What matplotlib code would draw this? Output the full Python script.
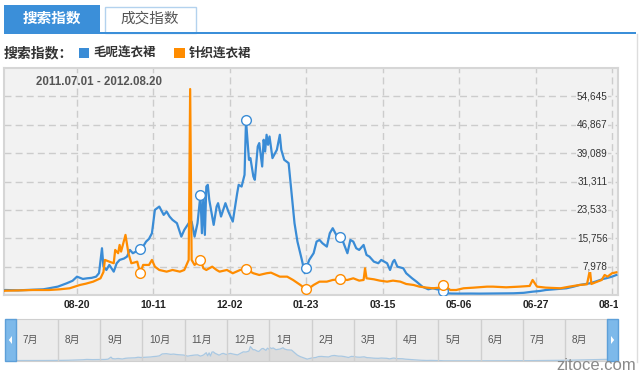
import numpy as np
import matplotlib
matplotlib.use('Agg')
import matplotlib.pyplot as plt
import matplotlib.dates as mdates
from matplotlib.patches import Rectangle, Polygon
from matplotlib.transforms import Bbox, TransformedBbox

plt.rcParams['font.family'] = ['Liberation Sans', 'Noto Sans CJK SC']

# data (days counted from the start date)
start = '2011-07-01'
date_range = '2011.07.01 - 2012.08.20'
series_names = ['毛呢连衣裙', '针织连衣裙']

blue_days = [0, 1, 10, 20, 27, 31, 37, 43, 47, 50, 54, 57, 60, 63, 65, 67, 68, 70, 72, 75,
             77, 79, 82, 84, 86, 88, 91, 93, 95, 97, 99, 101, 103, 106, 109, 111, 113, 115,
             118, 121, 123, 126, 128, 130, 132, 134, 135, 136, 137, 138, 139, 140, 143, 145,
             146, 148, 151, 153, 156, 159, 160, 162, 164, 165, 167, 168, 170, 171, 173, 174,
             176, 177, 178, 179, 180, 181, 183, 186, 188, 189, 191, 194, 196, 198, 200, 203,
             205, 206, 208, 211, 213, 215, 217, 220, 222, 224, 227, 229, 231, 234, 236, 238,
             240, 242, 245, 247, 249, 252, 255, 257, 261, 263, 265, 266, 268, 272, 274, 278,
             281, 285, 289, 292, 297, 299, 301, 305, 310, 318, 324, 333, 340, 347, 354, 360,
             365, 369, 376, 383, 388, 392, 396, 399, 403, 406, 408, 410, 412, 414, 417]
blue_vals = [1400, 1570, 1480, 1650, 1760, 2040, 2500, 3410, 4100, 5230, 4600, 4780, 4900,
             5230, 6200, 13020, 7970, 7060, 8440, 6600, 8900, 9810, 10200, 10720, 12550, 11650,
             12300, 12830, 13500, 14830, 15600, 17130, 23530, 24440, 22160, 23070, 21700,
             20790, 19880, 16200, 18040, 19880, 20320, 16200, 19880, 27650, 17130, 27180,
             16670, 29930, 30400, 26280, 19420, 24440, 25370, 21700, 25370, 23070, 20320,
             28110, 30400, 29930, 33140, 48050, 37260, 37720, 32680, 31770, 40910, 41840,
             35420, 42750, 39540, 44120, 41380, 43650, 37720, 40000, 44120, 40000, 37260,
             36350, 28110, 19880, 14830, 9810, 6160, 7530, 9810, 11650, 14830, 15300, 14390,
             13460, 17130, 18510, 16200, 16200, 14830, 11650, 15300, 14830, 13020, 12550,
             13920, 11180, 10720, 9340, 8900, 9810, 8900, 7060, 9340, 9810, 7970, 7530, 6160,
             4780, 3860, 2480, 1760, 2040, 1570, 1200, 670, 600, 580, 600, 580, 620, 650, 670,
             800, 1110, 1300, 1570, 1800, 2040, 2500, 2950, 3200, 3410, 3900, 4320, 4600,
             4780, 5000, 5230, 5690]

orange_days = [0, 1, 10, 20, 31, 38, 45, 52, 56, 61, 66, 68, 69, 72, 75, 76, 78, 79, 80, 83,
               85, 87, 89, 91, 93, 95, 99, 101, 103, 106, 111, 115, 120, 123, 126, 127, 128,
               130, 134, 136, 138, 142, 145, 147, 152, 156, 161, 165, 170, 174, 179, 182, 188,
               193, 197, 202, 205, 207, 211, 215, 220, 224, 229, 234, 238, 242, 245, 246, 247,
               252, 256, 261, 265, 270, 274, 279, 283, 288, 292, 297, 299, 304, 308, 313, 320,
               329, 333, 342, 351, 358, 360, 363, 369, 379, 385, 392, 397, 399, 400, 404, 407,
               409, 411, 414, 417]
orange_vals = [1300, 1380, 1450, 1570, 1570, 1750, 2040, 2950, 3300, 3860, 4780, 6500, 9810,
               9340, 8900, 12550, 11650, 13920, 12090, 16670, 11650, 8900, 9100, 9340, 6160,
               8440, 8440, 9810, 7970, 7060, 6600, 7060, 6600, 7060, 9810, 56660, 9810, 8440,
               9810, 7530, 7060, 7970, 7060, 6600, 7060, 6160, 7060, 7250, 6160, 5690, 6160,
               6330, 5230, 5230, 4320, 2950, 2040, 1760, 2950, 3860, 3860, 4320, 4500, 4320,
               4780, 4140, 4320, 7530, 4780, 4500, 4140, 3860, 4140, 3860, 3220, 2950, 2490,
               2220, 2040, 2220, 3000, 1570, 1570, 2040, 2220, 2490, 2490, 2310, 2490, 2680,
               4320, 2490, 2220, 2040, 2490, 2950, 3130, 7060, 3220, 3860, 4320, 5690, 5230,
               6160, 6420]

event_days = [93, 134, 165, 206, 229, 299]
tick_dates = ['2011-08-20', '2011-10-11', '2011-12-02', '2012-01-23',
              '2012-03-15', '2012-05-06', '2012-06-27', '2012-08-18']
y_ticks = [7978, 15756, 23533, 31311, 39089, 46867, 54645]
months = ['7月', '8月', '9月', '10月', '11月', '12月', '1月',
          '2月', '3月', '4月', '5月', '6月', '7月', '8月']

BLUE = '#3a8cd6'
ORANGE = '#ff8c00'
W, H = 640, 375


def fx(x):
    return x / W


def fy(y):
    return 1 - y / H


def box(x0, y0, x1, y1, **kw):
    # rectangle in pixel coords (top-left origin)
    fig.patches.append(Rectangle((fx(x0), fy(y1)), (x1 - x0) / W, (y1 - y0) / H,
                                 transform=fig.transFigure, **kw))


fig = plt.figure(figsize=(6.4, 3.75), dpi=100)

# tabs
box(4, 5, 100, 32, facecolor='#3b8fd9', edgecolor='none')
box(104.5, 6.5, 196, 33, facecolor='white', edgecolor='#b3d2ee', lw=1)
box(4, 32, 636, 34, facecolor='#3b8fd9', edgecolor='none')
fig.text(fx(52), fy(19), '搜索指数', color='white', fontsize=10.5, fontweight='bold',
         ha='center', va='center')
fig.text(fx(150), fy(19), '成交指数', color='#555555', fontsize=10.5,
         ha='center', va='center')

# legend row
fig.text(fx(4), fy(53), '搜索指数：', color='#333333', fontsize=10, fontweight='bold',
         va='center')
box(79, 48, 89, 58, facecolor=BLUE, edgecolor='none')
fig.text(fx(93), fy(53), series_names[0], color='#333333', fontsize=9, fontweight='bold',
         va='center')
box(174, 48, 185, 58, facecolor=ORANGE, edgecolor='none')
fig.text(fx(189), fy(53), series_names[1], color='#333333', fontsize=9, fontweight='bold',
         va='center')

# right border of the container
fig.lines.append(plt.Line2D([fx(637), fx(637)], [fy(34), fy(362)], transform=fig.transFigure,
                            color='#dddddd', lw=1))

# main chart
base = mdates.datestr2num(start)
ax = fig.add_axes([fx(4), fy(295), 614 / W, 227 / H])
ax.set_facecolor('#f2f2f2')
ax.set_axisbelow(True)

xb = base + np.array(blue_days)
xo = base + np.array(orange_days)
ax.plot(xb, blue_vals, color=BLUE, lw=1.6, zorder=3)
ax.plot(xo, orange_vals, color=ORANGE, lw=1.6, zorder=4)

ev = np.array(event_days)
ax.plot(base + ev, np.interp(ev, blue_days, blue_vals), 'o', ms=7, mfc='white',
        mec=BLUE, mew=1, zorder=5)
ax.plot(base + ev, np.interp(ev, orange_days, orange_vals), 'o', ms=7, mfc='white',
        mec=ORANGE, mew=1, zorder=5)

ax.set_xlim(base + 0.34, base + 418.1)
ax.set_ylim(200, 62423)
ticks = mdates.datestr2num(tick_dates)
ax.set_xticks(ticks)
ax.set_yticks(y_ticks)
ax.tick_params(axis='both', length=0, labelbottom=False, labelleft=False)
ax.grid(True, color='#cccccc', ls=(0, (5, 3)), lw=1)
for s in ax.spines.values():
    s.set_color('#d6d6d6')
    s.set_linewidth(1.5)

for v in y_ticks:
    ax.text(0.983, v, f'{v:,}', transform=ax.get_yaxis_transform(), ha='right',
            va='center', fontsize=7.2, color='#333333', zorder=6,
            bbox=dict(facecolor='#f2f2f2', edgecolor='none', pad=0.6))

clip = TransformedBbox(Bbox([[0, 0], [618 / W, 1]]), fig.transFigure)
for t, d in zip(ticks, tick_dates):
    lab = ax.text(t, -0.044, mdates.num2date(t).strftime('%m-%d'),
                  transform=ax.get_xaxis_transform(), ha='center', va='center',
                  fontsize=7.5, fontweight='bold', color='#222222')
    lab.set_clip_box(clip)
    lab.set_clip_on(True)

ax.text(fx(35.7) / (614 / W) - fx(4) / (614 / W), (fy(81.7) - fy(295)) / (227 / H),
        date_range, transform=ax.transAxes, ha='left', va='center', fontsize=8.3,
        fontweight='bold', color='#555555', zorder=6)

# range slider with overview
sx0, sx1, sy0, sy1 = 15.7, 607.3, 319, 361
ax2 = fig.add_axes([fx(sx0), fy(sy1), (sx1 - sx0) / W, (sy1 - sy0) / H])
ax2.set_facecolor('#ececec')
ax2.fill_between(xb, blue_vals, 0, color='#dcdcdc', lw=0)
ax2.plot(xb, blue_vals, color='#a9c8e2', lw=0.9)
ax2.set_xlim(base, base + 416)
ax2.set_ylim(0, 140000)
ax2.set_xticks([])
ax2.set_yticks([])
for s in ax2.spines.values():
    s.set_color('#cfcfcf')
n = len(months)
for k, m in enumerate(months):
    if k > 0:
        ax2.axvline(base + 416 * k / n, color='#cfcfcf', lw=1)
    ax2.text((k + 7 / 42.26) / n, 0.5, m, transform=ax2.transAxes, ha='left', va='center',
             fontsize=7.2, color='#555555')

for hx0, hx1, pts in [(5, 15.7, [(12, 336), (12, 344), (8.8, 340)]),
                      (607.3, 617.7, [(611, 336), (611, 344), (614.2, 340)])]:
    box(hx0, sy0, hx1, sy1, facecolor='#7db9ea', edgecolor='#5d9fd8', lw=1)
    fig.patches.append(Polygon([(fx(px), fy(py)) for px, py in pts], closed=True,
                               transform=fig.transFigure, facecolor='white',
                               edgecolor='none'))

# watermark
fig.text(fx(636), fy(366), 'zitoce.com', ha='right', va='center', fontsize=12,
         color='#8a8a8a')

fig.savefig('out.png', dpi=100)
